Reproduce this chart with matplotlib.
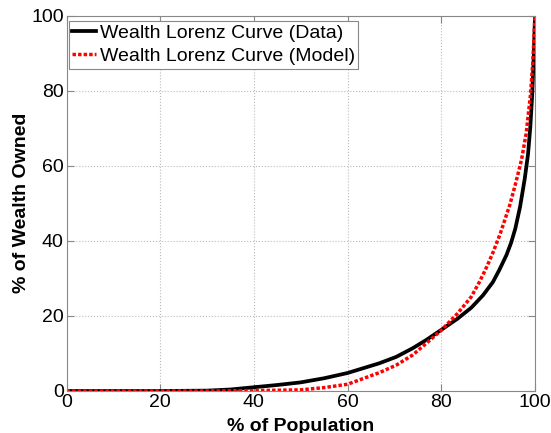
import numpy as np
import matplotlib.pyplot as plt

plt.rcParams['font.family'] = ['Liberation Sans', 'DejaVu Sans']

# Lorenz curve points: % of population vs % of wealth owned
pop_data = [0, 20, 30, 35, 40, 45, 50, 55, 60, 66.8, 70.4, 73.9, 76.8, 80, 83.5, 86.4, 88.9,
            91.0, 92.4, 93.9, 94.9, 95.8, 96.8, 97.8, 98.5, 99.0, 99.4, 99.7, 100]
wealth_data = [0, 0, 0.1, 0.4, 1.0, 1.6, 2.3, 3.4, 4.8, 7.4, 9.1, 11.4, 13.6, 16.3, 19.3, 22.2, 25.5,
               29.0, 32.3, 36.2, 39.5, 43.3, 49.0, 56.5, 63.0, 70.4, 79.0, 88.0, 100]

pop_model = [0, 20, 30, 40, 50, 55, 60, 66.8, 70.4, 73.9, 76.8, 80, 83.5, 86.4, 88.2, 89.6,
             91.0, 92.6, 94.6, 95.8, 97.1, 98.1, 99.0, 99.5, 100]
wealth_model = [0, 0, 0, 0.1, 0.3, 0.9, 1.8, 4.9, 6.9, 9.6, 12.7, 16.2, 20.7, 25.1, 29.2, 32.8,
                36.8, 42.0, 49.5, 55.0, 61.5, 68.5, 78.5, 87.0, 100]

xticks = [0, 20, 40, 60, 80, 100]
yticks = [0, 20, 40, 60, 80, 100]

fig = plt.figure(figsize=(5.51, 4.33), dpi=100)
ax = fig.add_axes([0.1207, 0.097, 0.8503, 0.867])

ax.plot(pop_data, wealth_data, color='black', linewidth=2.7, label='Wealth Lorenz Curve (Data)')
ax.plot(pop_model, wealth_model, color='red', linewidth=2.5, linestyle=(0, (1.0, 0.6)),
        label='Wealth Lorenz Curve (Model)')

ax.set_xlim(0, 100)
ax.set_ylim(0, 100)
ax.set_xticks(xticks)
ax.set_yticks(yticks)
ax.tick_params(direction='in', labelsize=14, top=True, right=True, length=5, color='#888888', pad=2)
for s in ax.spines.values():
    s.set_color('#888888')
ax.grid(True, linestyle=':', color='#bbbbbb', linewidth=0.8)

ax.set_xlabel('% of Population', fontsize=14, fontweight='bold', labelpad=5)
ax.set_ylabel('% of Wealth Owned', fontsize=14, fontweight='bold', labelpad=1)

leg = ax.legend(loc='upper left', bbox_to_anchor=(0.0053, 0.9867), fontsize=14, fancybox=False,
                framealpha=1, borderpad=0.18, handlelength=1.2, handletextpad=0.2,
                borderaxespad=0, labelspacing=0.3)
leg.get_frame().set_edgecolor('#888888')
leg.get_frame().set_linewidth(0.8)

fig.savefig('out.png', dpi=100)
